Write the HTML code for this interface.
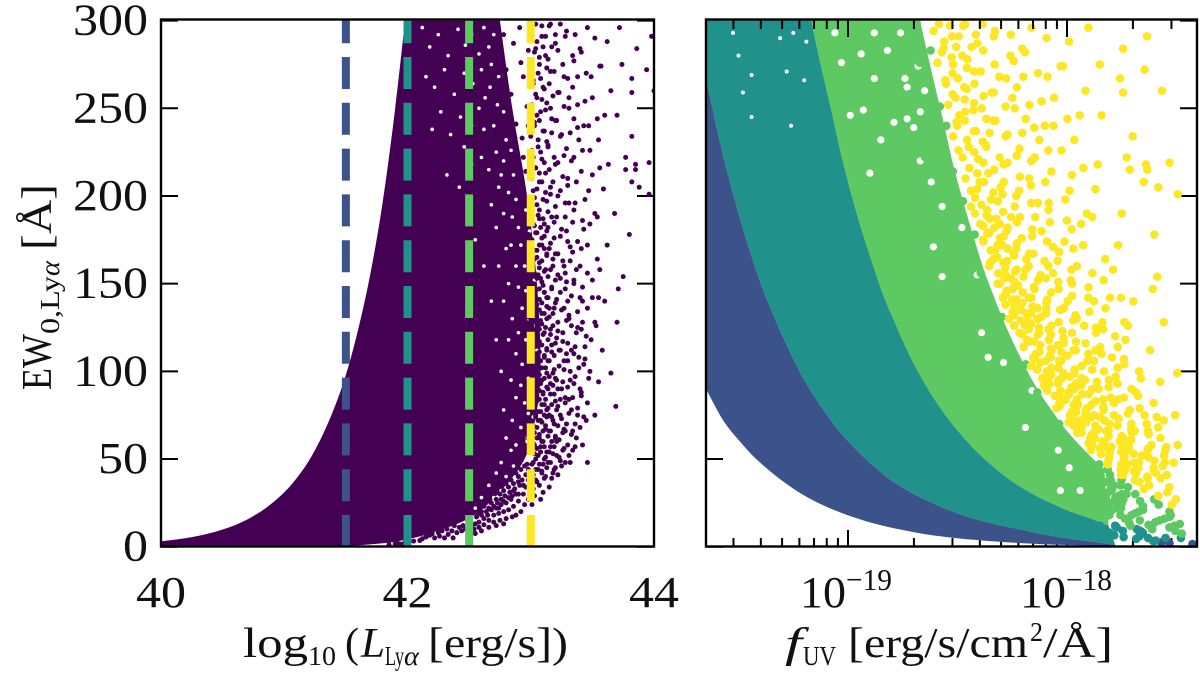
<!DOCTYPE html>
<html><head><meta charset="utf-8">
<style>
html,body{margin:0;padding:0;background:#fff;width:1200px;height:676px;overflow:hidden}
svg{display:block;font-family:"Liberation Serif",serif;fill:#111;filter:blur(0.35px)}
</style></head>
<body>
<svg id="fig" width="1200" height="676" viewBox="0 0 1200 676" xmlns="http://www.w3.org/2000/svg">
<defs>
<clipPath id="clipL"><rect x="161" y="20" width="493" height="527"/></clipPath>
<clipPath id="clipR"><rect x="706" y="20" width="491" height="527"/></clipPath>
</defs>
<g id="panelL"></g>
<g id="panelR"></g>
<rect x="161" y="19.5" width="493" height="527" fill="none" stroke="#000" stroke-width="2.4"/>
<rect x="706" y="19.5" width="491" height="527" fill="none" stroke="#000" stroke-width="2.4"/>
<g id="yLabels" font-size="44" text-anchor="end"></g>
<g id="xLabels" font-size="44" text-anchor="middle"></g>
<g>
<text x="800" y="607" font-size="44" textLength="46" lengthAdjust="spacingAndGlyphs">10</text>
<text x="846" y="590" font-size="31" textLength="46" lengthAdjust="spacingAndGlyphs">−19</text>
<text x="1020" y="607" font-size="44" textLength="46" lengthAdjust="spacingAndGlyphs">10</text>
<text x="1066" y="590" font-size="31" textLength="46" lengthAdjust="spacingAndGlyphs">−18</text>
</g>
<g>
<text x="243" y="657" font-size="42" textLength="65" lengthAdjust="spacingAndGlyphs">log</text>
<text x="308" y="665" font-size="27" textLength="28" lengthAdjust="spacingAndGlyphs">10</text>
<text x="345" y="657" font-size="42" textLength="14" lengthAdjust="spacingAndGlyphs">(</text>
<text x="361" y="657" font-size="42" font-style="italic" textLength="24" lengthAdjust="spacingAndGlyphs">L</text>
<text x="385" y="665" font-size="27" textLength="19" lengthAdjust="spacingAndGlyphs">Ly</text>
<text x="404" y="665" font-size="27" font-style="italic" textLength="15" lengthAdjust="spacingAndGlyphs">α</text>
<text x="428" y="657" font-size="42" textLength="140" lengthAdjust="spacingAndGlyphs">[erg/s])</text>
</g>
<g>
<text x="785" y="657" font-size="42" font-style="italic" textLength="17" lengthAdjust="spacingAndGlyphs">f</text>
<text x="803" y="665" font-size="27" textLength="33" lengthAdjust="spacingAndGlyphs">UV</text>
<text x="848" y="657" font-size="42" textLength="180" lengthAdjust="spacingAndGlyphs">[erg/s/cm</text>
<text x="1030" y="641" font-size="27" textLength="13" lengthAdjust="spacingAndGlyphs">2</text>
<text x="1043" y="657" font-size="42" textLength="70" lengthAdjust="spacingAndGlyphs">/Å]</text>
</g>
<g transform="translate(51,390) rotate(-90)">
<text x="0" y="0" font-size="42" textLength="56" lengthAdjust="spacingAndGlyphs">EW</text>
<text x="56" y="8" font-size="27" textLength="58" lengthAdjust="spacingAndGlyphs">0,Ly</text>
<text x="114" y="8" font-size="27" font-style="italic" textLength="15" lengthAdjust="spacingAndGlyphs">α</text>
<text x="140" y="0" font-size="42" textLength="66" lengthAdjust="spacingAndGlyphs">[Å]</text>
</g>
</svg>
<script>
// ---- axis tick values ----
const ewTicks = [0, 50, 100, 150, 200, 250, 300];
const lumTicks = [40, 42, 44];
const fluxMajorTicks = [-19, -18];
const fluxMinorTicks = [-19.523, -19.398, -19.301, -19.222, -19.155, -19.097, -19.046, -18.699, -18.523, -18.398, -18.301, -18.222, -18.155, -18.097, -18.046, -17.699, -17.523];

// ---- dashed luminosity thresholds ----
const thresholds = [41.5, 42, 42.5, 43];
const bandColors = ['#3b528b', '#21918c', '#5ec962', '#fde725'];

// ---- left panel: filled region edges (log L, EW) ----
const upperEdgeLogL = [40, 40.125, 40.25, 40.375, 40.5, 40.625, 40.75, 40.875, 41, 41.1, 41.2, 41.3, 41.4, 41.5, 41.6, 41.7, 41.8, 41.9, 41.98];
const upperEdgeEW = [3.1, 4.1, 5.5, 7.3, 9.8, 13, 17.5, 23.3, 31, 39, 49, 62, 78, 98, 124, 156, 197, 250, 300];
const denseEdgeLogL = [42.75, 42.85, 42.97, 43.05, 43.08, 43.03, 42.95, 42.76, 42.52, 42.2, 41.98, 41.8, 41.27, 40];
const denseEdgeEW = [300, 250, 200, 150, 100, 70, 50, 32, 17, 8, 4, 2, 0, 0];

// ---- empty patches inside the dense left region (log L, EW) ----
const lumGaps = [[42.12,296],[42.18,285],[42.25,292],[42.33,280],[42.41,295],[42.47,286],[42.52,292],[42.58,281],[42.62,296],[42.15,268],[42.22,262],[42.3,272],[42.38,258],[42.46,270],[42.53,264],[42.6,272],[42.63,256],[42.66,285],[42.43,245],[42.52,240],[42.58,250],[42.62,238],[42.67,262],[42.7,240],[42.72,225],[42.66,215],[42.6,222],[42.52,218],[42.46,228],[42.74,205],[42.78,220],[42.68,195],[42.72,182],[42.78,190],[42.8,170],[42.74,160],[42.82,150],[42.78,140],[42.85,130],[42.82,118],[42.88,110],[42.84,95],[42.88,85],[42.85,72],[42.8,62],[42.84,55],[42.76,48],[42.72,42],[42.66,35],[42.6,28],[42.55,22],[42.35,235],[42.27,248],[42.2,238],[42.42,205],[42.32,212],[42.55,175],[42.62,160],[42.68,140],[42.72,118],[42.76,100],[42.78,78],
[42.7,292],[42.68,275],[42.74,268],[42.78,248],[42.73,252],[42.8,232],[42.84,226],[42.76,212],[42.86,212],[42.82,202],[42.88,198],[42.85,188],[42.9,182],[42.84,172],[42.92,172],[42.88,160],[42.95,160],[42.9,148],[42.96,146],[42.93,136],[42.98,130],[42.9,122],[42.96,118],[43,112],[42.93,104],[42.98,96],[43.01,88],[42.92,92],[42.95,82],[42.98,76],[42.92,68],[42.95,62],[42.88,58],[42.86,46],[42.8,40],[42.76,32],[42.7,28],[42.62,20],
[43.03,152],[43.06,138],[43.02,126],[43.05,112],[43.07,98],[43.04,86],[43.02,74],[42.97,60],[42.99,180],[42.96,192],[43.01,166]];

// ---- individual galaxies (log L, EW) ----
const bluePoints = [[41.9,1.5],[41.95,1.5],[41.92,2],[41.85,1.2],[41.98,2.5]];
const tealPoints = [[42.3,5],[42.37,5],[42.2,7.5],[42.25,8],[42.15,5.5],[42.18,6.5],[42.28,9],[42.32,10],[42.36,9],[42.4,8],[42.42,11],[42.45,12],[42.47,10],[42.38,12],[42.22,5],[42.12,4.5],[42.44,9],[42.26,6],[42.33,7],[42.1,3.5],[42.05,3.2]];
const greenPoints = [[42.78,32],[42.82,34],[42.86,36],[42.9,40],[42.92,44],[42.95,46],[42.97,47],[42.88,30],[42.84,27],[42.8,25],[42.76,24],[42.72,22],[42.68,21],[42.64,20],[42.6,18],[42.56,17],[42.7,18],[42.74,19],[42.78,20],[42.82,21],[42.86,23],[42.9,26],[42.94,30],[42.96,34],[42.98,38],[42.66,15],[42.7,14],[42.75,15],[42.8,16],[42.85,17],[42.88,18],[42.92,20],[42.62,12.5],[42.58,11],[42.54,10],[42.66,11],[42.6,9],[42.72,12],[42.55,7.5],[42.78,13],[42.9,30],[42.94,35],[42.85,29],[42.72,27],[42.68,25],[42.62,23],[42.75,30],[42.95,24],[42.98,27],[42.88,42],[42.84,38],[42.8,36],
[42.93,38],[42.91,35],[42.87,33],[42.83,31],[42.79,29],[42.76,27],[42.73,25],[42.7,23],[42.66,22],[42.6,20],[42.57,19],[42.96,41],[42.98,44],[42.9,37],[42.86,32],[42.82,28],[42.78,26],[42.74,22],[42.65,18],[42.62,16],[42.58,14],[42.55,13],[42.52,12],
[42.94,62],[42.96,88],[42.93,112],[42.97,131],[42.95,156],[42.98,178],[42.92,193],[42.96,214],[42.93,233],[42.97,251],[42.94,268],[42.98,283],[42.91,296],[42.86,287],[42.8,272],[42.84,258],[42.88,241],[42.85,222],[42.91,207],[42.9,168],[42.96,70],[42.98,104],[42.95,122],[42.92,143],[42.97,197],[42.94,222],[42.92,276],[42.78,292],[42.75,266],[42.98,240]];
const yellowPoints = [
[43.01,24],[43.03,29],[43.02,33],[43.05,37],[43.01,41],[43.04,44],[43.02,48],[43.06,52],[43.00,55],[43.03,58],[43.05,62],[43.01,65],[43.02,69],[43.06,72],[43.04,75],[43.00,79],[43.03,82],[43.05,86],[43.01,89],[43.04,93],[43.02,96],[43.06,100],[43.00,103],[43.03,107],[43.05,110],[43.01,114],[43.04,118],[43.02,122],[43.06,126],[43.00,130],[43.03,134],[43.05,138],[43.01,142],[43.04,146],[43.02,150],[43.06,155],[43.00,160],[43.03,164],[43.05,169],[43.01,174],[43.04,179],[43.02,184],[43.06,189],[43.00,194],[43.03,199],[43.05,204],[43.01,210],[43.04,216],[43.02,222],[43.06,228],[43.00,234],[43.03,240],[43.05,246],[43.01,252],[43.04,258],[43.02,264],[43.06,270],[43.00,276],[43.03,282],[43.05,288],[43.01,294],[43.04,298],
[43.08,27],[43.1,31],[43.07,35],[43.12,40],[43.09,43],[43.07,47],[43.11,50],[43.13,54],[43.08,57],[43.1,60],[43.07,64],[43.12,67],[43.09,71],[43.13,74],[43.08,77],[43.11,81],[43.07,84],[43.1,88],[43.13,91],[43.09,95],[43.07,98],[43.12,102],[43.08,106],[43.11,109],[43.13,113],[43.07,117],[43.1,121],[43.12,125],[43.08,129],[43.09,133],[43.13,137],[43.07,141],[43.11,145],[43.1,149],[43.08,153],[43.12,158],[43.07,162],[43.13,167],[43.09,172],[43.11,177],[43.08,182],[43.1,187],[43.07,192],[43.13,197],[43.12,202],[43.09,208],[43.07,213],[43.11,219],[43.08,225],[43.13,231],[43.1,237],[43.07,243],[43.12,249],[43.09,255],[43.11,261],[43.08,267],[43.13,273],[43.07,279],[43.1,285],[43.12,291],[43.09,297],
[43.15,34],[43.17,39],[43.19,44],[43.14,48],[43.18,53],[43.16,57],[43.2,62],[43.15,66],[43.19,70],[43.17,74],[43.14,79],[43.2,83],[43.16,87],[43.18,92],[43.15,97],[43.19,101],[43.14,106],[43.17,111],[43.2,116],[43.16,121],[43.18,126],[43.15,131],[43.19,136],[43.14,142],[43.17,147],[43.2,152],[43.16,158],[43.18,164],[43.15,170],[43.19,176],[43.14,182],[43.17,188],[43.2,194],[43.16,201],[43.18,208],[43.15,215],[43.19,222],[43.14,229],[43.17,236],[43.2,243],[43.16,250],[43.18,257],[43.15,264],[43.19,271],[43.14,278],[43.17,285],[43.2,292],[43.16,298],
[43.22,41],[43.25,46],[43.23,51],[43.27,56],[43.21,60],[43.26,65],[43.29,70],[43.24,75],[43.22,80],[43.28,85],[43.25,90],[43.21,95],[43.27,101],[43.3,106],[43.23,112],[43.26,117],[43.22,123],[43.29,129],[43.25,135],[43.21,141],[43.28,147],[43.24,153],[43.27,160],[43.22,167],[43.3,174],[43.25,181],[43.21,188],[43.28,196],[43.24,203],[43.26,211],[43.22,219],[43.29,227],[43.25,235],[43.21,243],[43.27,251],[43.23,259],[43.3,267],[43.26,275],[43.22,283],[43.28,291],[43.24,298],
[43.32,48],[43.36,57],[43.34,66],[43.38,75],[43.31,84],[43.35,93],[43.39,102],[43.33,112],[43.37,122],[43.31,132],[43.4,142],[43.35,152],[43.32,163],[43.38,174],[43.34,185],[43.31,196],[43.37,208],[43.33,220],[43.39,232],[43.35,244],[43.31,256],[43.38,268],[43.34,280],[43.36,292],
[43.42,58],[43.45,72],[43.41,86],[43.48,100],[43.44,114],[43.42,128],[43.5,142],[43.46,156],[43.41,170],[43.48,184],[43.44,198],[43.5,212],[43.42,226],[43.47,240],[43.44,254],[43.49,268],[43.41,282],[43.46,296],
[43.46,48],[43.52,75],[43.55,94],[43.58,112],[43.53,126],[43.6,140],[43.56,158],[43.62,172],[43.54,188],[43.59,204],[43.63,218],[43.55,232],[43.6,246],[43.65,260],[43.57,274],[43.62,288],
[43.65,99],[43.7,128],[43.71,147],[43.75,154],[43.69,80],[43.8,178],[43.82,208],[43.88,205],[43.96,201],[43.77,215],[43.85,215],[43.85,218],[43.77,222],[43.96,219],[43.82,234],[43.7,246],[43.82,259],[44,260],[43.82,267],[43.94,272],[43.86,284],[43.98,291],[43.72,296],[43.68,190],[43.74,275],
[43.04,38],[43.11,39],[43.02,41],[43.09,42],[43.18,42],[43.06,44],[43.13,45],[43.2,45],[43.01,47],[43.1,47],[43.16,48],[43.24,49],[43.04,50],[43.12,51],[43.21,52],[43.03,53],[43.08,54],[43.15,54],[43.26,55],[43.05,56],[43.11,57],[43.19,57],[43.3,58],[43.02,59],[43.09,60],[43.17,60],[43.23,61],[43.07,62],[43.14,63],[43.2,63],[43.33,64],[43.03,65],[43.1,66],[43.16,66],[43.27,67],[43.05,68],[43.12,69],[43.22,69],[43.36,70],[43.01,71],[43.08,72],[43.18,72],[43.25,73],[43.04,74],[43.11,75],[43.15,75],[43.31,76],[43.06,77],[43.13,78],[43.21,78],[43.38,79],[43.02,80],[43.09,81],[43.17,81],[43.28,82],[43.05,83],[43.12,84],[43.24,84],[43.34,85],[43.03,86],[43.1,87],[43.19,87],[43.41,88],[43.07,89],[43.14,90],[43.22,90],[43.3,91],[43.01,92],[43.08,93],[43.16,93],[43.26,94],[43.04,95],[43.11,96],[43.2,96],[43.36,97],[43.06,98],[43.13,99],[43.18,99],[43.32,100],[43.02,101],[43.09,102],[43.23,103],[43.43,104],[43.05,105],[43.15,106],[43.27,106],[43.03,108],[43.11,108],[43.19,109],[43.35,110],[43.07,111],[43.13,112],[43.24,112],[43.01,114],[43.09,115],[43.17,115],[43.3,116],[43.05,117],[43.14,118],[43.21,119],[43.45,120],[43.03,121],[43.11,122],[43.26,122],[43.07,124],[43.16,124],[43.38,125],[43.01,126],[43.09,127],[43.22,128],[43.05,129],[43.13,130],[43.31,130],[43.03,132],[43.11,133],[43.18,133],[43.07,135],[43.15,136],[43.27,136],[43.01,138],[43.09,139],[43.2,139],[43.42,140],[43.05,141],[43.13,142],[43.33,143],[43.03,144],[43.11,145],[43.24,145],[43.07,147],[43.17,148],[43.01,150],[43.09,151],[43.29,151],[43.05,153],[43.14,154],[43.22,155],[43.03,156],[43.11,157],[43.37,158],[43.07,159],[43.18,160],[43.01,162],[43.09,163],[43.26,163],[43.05,165],[43.13,166],[43.2,167],[43.03,169],[43.11,170],[43.32,171],[43.07,172],[43.16,173],[43.01,175],[43.09,176],[43.24,177],[43.05,179],[43.13,180],[43.43,181],[43.03,183],[43.11,184],[43.19,185],[43.07,187],[43.28,188],[43.01,190],[43.14,191],[43.35,192],
[43.05,195],[43.1,198],[43.22,200],[43.02,203],[43.16,205],[43.07,208],[43.3,210],[43.12,213],[43.04,216],[43.2,218],[43.09,221],[43.27,223],[43.01,226],[43.14,228],[43.06,232],[43.24,234],[43.11,237],[43.38,239],[43.03,242],[43.17,244],[43.08,248],[43.31,250],[43.13,253],[43.05,256],[43.22,259],[43.1,262],[43.02,266],[43.27,268],[43.16,271],[43.07,275],[43.35,277],[43.12,280],[43.04,284],[43.2,287],[43.09,291],[43.29,294],[43.15,297],
[43.28,48],[43.31,52],[43.34,55],[43.37,62],[43.28,66],[43.4,68],[43.43,74],[43.33,78],[43.46,82],[43.4,90],[43.32,95],[43.47,96],[43.39,108],[43.29,110],[43.44,107],[43.36,114],[43.49,118],[43.41,124],[43.33,126],[43.52,128],[43.38,134],[43.46,136],[43.3,140],[43.55,142],[43.42,148],[43.35,150],[43.5,152],[43.28,156],[43.4,160],[43.54,164],[43.34,168],[43.46,172],[43.29,180],[43.42,186],[43.52,190],[43.36,196],[43.47,203],[43.3,206],[43.41,214],[43.56,216],[43.35,222],[43.48,226],[43.32,236],[43.43,240],[43.54,244],[43.38,252],[43.5,256],[43.34,262],[43.45,270],[43.56,274],[43.4,284],[43.52,290]];

// ---- right panel: filled band edges (log fUV, EW) ----
const blueLowerFlux = [-19.648,-19.57,-19.49,-19.415,-19.31,-19.19,-19.065,-18.93,-18.80,-18.65,-18.50,-18.35,-18.20,-18.04,-17.89,-17.78];
const blueLowerEW = [90,72,59.5,49.5,38.5,28.5,21,15,10.8,7.2,4.8,3.2,2,1.1,0.5,0];
const blueTealFlux = [-19.648,-19.57,-19.49,-19.415,-19.35,-19.265,-19.19,-19.11,-19.04,-18.96,-18.87,-18.78,-18.65,-18.50,-18.35,-18.20,-18.04,-17.89,-17.78];
const blueTealEW = [267,223,186,156,135,111,93,77.6,66,55,44.6,36,27,19,13.5,9.5,5.5,3,1];
const tealGreenFlux = [-19.2,-19.17,-19.13,-19.08,-19.02,-18.96,-18.90,-18.84,-18.79,-18.71,-18.62,-18.53,-18.41,-18.27,-18.15,-18.04,-17.965,-17.89,-17.81];
const tealGreenEW = [325,302,278,251,218,190,166,144,129,107,87,71,54,39,29.6,23,19.2,16,12];
const greenYellowFlux = [-18.7,-18.67,-18.62,-18.59,-18.56,-18.52,-18.47,-18.42,-18.38,-18.35,-18.30,-18.24,-18.15,-18.06,-18.00,-17.92,-17.83];
const greenYellowEW = [325,300,272,256,240,218,195,174,158,148,132,115,93,76,66,55,44];
// upper left corner beyond the plot, closes the teal band
const tealCorner = [-19.648, 340];

// ---- empty patches in the right panel bands (log fUV, EW) ----
const tealGaps = [[-19.5,280],[-19.28,271],[-19.25,293],[-19.31,290],[-19.19,288],[-19.525,293],[-19.44,269],[-19.2,266],[-19.48,259],[-19.44,245],[-19.26,240]];
const greenGaps = [[-19.03,276],[-19.06,293],[-18.94,281],[-18.88,267],[-18.74,267],[-18.68,274],[-18.76,293],[-18.99,246],[-18.93,249],[-18.73,244],[-18.67,248],[-18.85,232],[-18.67,220],[-18.62,208],[-18.9,213],[-18.7,239],[-18.73,262],[-18.65,260],[-18.82,283],[-18.88,293],[-18.79,242],[-18.48,182],[-18.57,194],[-18.61,171],[-18.57,154],[-18.41,155],[-18.36,108],[-18.39,122],[-18.19,68],[-18.04,55],[-18.03,32],[-17.94,32],[-17.99,45],[-18.16,89],[-18.29,105]];

const fluxOffset = 59.151;

// ---- axis functions ----
function xLum(v){ return 161 + (v - 40) * 123.25; }
function yEW(v){ return 546.7 - v * 1.7537; }
function xFlux(v){ return 848 + (v + 19) * 219; }
function fluxOf(p){ return p[0] - Math.log10(p[1]) - fluxOffset; }

const NS = 'http://www.w3.org/2000/svg';
const panelL = document.getElementById('panelL');
const panelR = document.getElementById('panelR');
function make(parent, tag, attrs){
  const el = document.createElementNS(NS, tag);
  for (const k in attrs) el.setAttribute(k, attrs[k]);
  parent.appendChild(el);
  return el;
}
function toPixels(xs, ys, fx){ return xs.map((x, i) => [fx(x), yEW(ys[i])]); }
// smooth curve through the read edge points
function curve(p, start){
  let d = start + p[0][0].toFixed(1) + ' ' + p[0][1].toFixed(1);
  for (let i = 0; i < p.length - 1; i++) {
    const a = p[Math.max(i - 1, 0)], b = p[i], c = p[i + 1], e = p[Math.min(i + 2, p.length - 1)];
    d += ' C' + (b[0] + (c[0] - a[0]) / 6).toFixed(1) + ' ' + (b[1] + (c[1] - a[1]) / 6).toFixed(1) +
         ' ' + (c[0] - (e[0] - b[0]) / 6).toFixed(1) + ' ' + (c[1] - (e[1] - b[1]) / 6).toFixed(1) +
         ' ' + c[0].toFixed(1) + ' ' + c[1].toFixed(1);
  }
  return d;
}

// ---- left panel ----
const clipGroupL = make(panelL, 'g', {'clip-path': 'url(#clipL)'});


const purpleFill = make(clipGroupL, 'path', {
  d: curve(toPixels(upperEdgeLogL, upperEdgeEW, xLum), 'M') + ' ' + curve(toPixels(denseEdgeLogL, denseEdgeEW, xLum), 'L') + ' Z',
  fill: '#440154'
});


lumGaps.forEach(g => {
  const gap = make(clipGroupL, 'circle', {cx: xLum(g[0]), cy: yEW(g[1]), r: 1.8, fill: '#fff'});
  
  
});
[bluePoints, tealPoints, greenPoints, yellowPoints].forEach(list => list.forEach(p => {
  const dot = make(clipGroupL, 'circle', {cx: xLum(p[0]), cy: yEW(p[1]), r: 2.5, fill: '#440154'});
  
  
}));
thresholds.forEach((t, i) => {
  const line = make(clipGroupL, 'line', {
    x1: xLum(t), x2: xLum(t), y1: 547, y2: 20,
    stroke: bandColors[i], 'stroke-width': 8, 'stroke-dasharray': '32 13.8'
  });
  
  
});

// ---- right panel ----
const clipGroupR = make(panelR, 'g', {'clip-path': 'url(#clipR)'});


function band(lowF, lowE, upF, upE, color, name, corner){
  let d = curve(toPixels(lowF, lowE, xFlux), 'M') + ' ' + curve(toPixels(upF, upE, xFlux).reverse(), 'L');
  if (corner) d += ' L' + xFlux(corner[0]) + ' ' + yEW(corner[1]);
  const poly = make(clipGroupR, 'path', {d: d + ' Z', fill: color});
  
  
}
band(blueLowerFlux, blueLowerEW, blueTealFlux, blueTealEW, bandColors[0], 'band-blue');
band(blueTealFlux, blueTealEW, tealGreenFlux, tealGreenEW, bandColors[1], 'band-teal', tealCorner);
band(tealGreenFlux, tealGreenEW, greenYellowFlux, greenYellowEW, bandColors[2], 'band-green');
tealGaps.forEach(g => {
  const gap = make(clipGroupR, 'circle', {cx: xFlux(g[0]), cy: yEW(g[1]), r: 2, fill: '#fff'});
  
  
});
greenGaps.forEach(g => {
  const gap = make(clipGroupR, 'circle', {cx: xFlux(g[0]), cy: yEW(g[1]), r: 3.6, fill: '#fff'});
  
  
});
[bluePoints, tealPoints, greenPoints, yellowPoints].forEach((list, i) => list.forEach(p => {
  const dot = make(clipGroupR, 'circle', {cx: xFlux(fluxOf(p)), cy: yEW(p[1]), r: 4.3, fill: bandColors[i]});
  
  
}));

// ---- ticks ----
function tick(parent, x1, y1, x2, y2){
  const t = make(parent, 'line', {x1, y1, x2, y2, stroke: '#000', 'stroke-width': 2});
  
  
}
ewTicks.forEach(v => {
  tick(panelL, 161, yEW(v), 178, yEW(v));
  tick(panelL, 637, yEW(v), 654, yEW(v));
  tick(panelR, 706, yEW(v), 723, yEW(v));
  tick(panelR, 1180, yEW(v), 1197, yEW(v));
});
lumTicks.forEach(v => {
  tick(panelL, xLum(v), 530, xLum(v), 547);
  tick(panelL, xLum(v), 20, xLum(v), 37);
});
fluxMajorTicks.forEach(v => {
  tick(panelR, xFlux(v), 530, xFlux(v), 547);
});
fluxMinorTicks.forEach(v => {
  tick(panelR, xFlux(v), 538, xFlux(v), 547);
});
// marks sit above the ticks, except the top ticks of the flux axis
panelL.appendChild(clipGroupL);
panelR.appendChild(clipGroupR);
fluxMajorTicks.forEach(v => {
  tick(panelR, xFlux(v), 20, xFlux(v), 37);
});
fluxMinorTicks.forEach(v => {
  tick(panelR, xFlux(v), 20, xFlux(v), 29);
});

// ---- tick labels ----
const yLabels = document.getElementById('yLabels');
ewTicks.forEach(v => {
  const t = make(yLabels, 'text', {x: 148, y: yEW(v) + 14, textLength: String(v).length * 25, lengthAdjust: 'spacingAndGlyphs'});
  
  
  t.textContent = v;
});
const xLabels = document.getElementById('xLabels');
lumTicks.forEach(v => {
  const t = make(xLabels, 'text', {x: xLum(v), y: 607, textLength: 50, lengthAdjust: 'spacingAndGlyphs'});
  
  
  t.textContent = v;
});
</script>
</body></html>
